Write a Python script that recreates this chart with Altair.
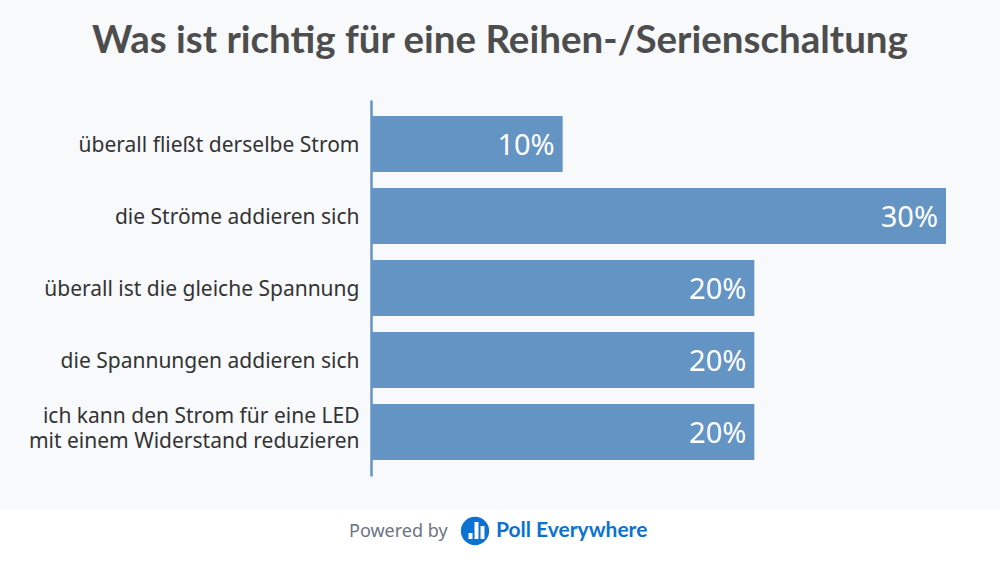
import altair as alt
import pandas as pd

categories = [
    "überall fließt derselbe Strom",
    "die Ströme addieren sich",
    "überall ist die gleiche Spannung",
    "die Spannungen addieren sich",
    "ich kann den Strom für eine LED|mit einem Widerstand reduzieren",
]
values = [10, 30, 20, 20, 20]
labels = ["10%", "30%", "20%", "20%", "20%"]

title_text = "Was ist richtig für eine Reihen-/Serienschaltung"

df = pd.DataFrame({"cat": categories, "val": values, "lab": labels})

FONT = "Noto Sans"
TFONT = "Lato"
BAR = "#6394c4"

y_enc = alt.Y(
    "cat:N",
    sort=categories,
    scale=alt.Scale(paddingInner=0.2222, paddingOuter=0.2222),
    axis=alt.Axis(
        title=None,
        ticks=False,
        domainColor=BAR,
        domainWidth=2.5,
        labelFont=FONT,
        labelFontSize=21,
        labelColor="#333333",
        labelPadding=12,
        labelLineHeight=25,
        labelOffset={"condition": {"test": "indexof(datum.value, '|') >= 0", "value": -15}, "value": 2},
        labelExpr="split(datum.label, '|')",
        labelLimit=400,
    ),
)
x_enc = alt.X("val:Q", scale=alt.Scale(domain=[0, 30], nice=False), axis=None)

base = alt.Chart(df)

bars = base.mark_bar(color=BAR).encode(x=x_enc, y=y_enc)
texts = base.mark_text(
    align="right", dx=-8, dy=2, color="white", font=FONT, fontSize=29, fontWeight="normal"
).encode(x=x_enc, y=alt.Y("cat:N", sort=categories), text="lab:N")

footer_df = pd.DataFrame({"a": [0]})
footer_bg = alt.Chart(footer_df).mark_rect(color="white").encode(
    x=alt.value(-371), x2=alt.value(629), y=alt.value(410), y2=alt.value(470)
)
title = alt.Chart(footer_df).mark_text(
    text=title_text, font=TFONT, fontSize=38.5, fontWeight="bold", color="#4d4d4d",
    align="center", baseline="alphabetic"
).encode(x=alt.value(129), y=alt.value(-47))
powered = alt.Chart(footer_df).mark_text(
    text="Powered by", font=FONT, fontSize=18, color="#6b7484", align="left", baseline="middle"
).encode(x=alt.value(-22), y=alt.value(432))
logo_circle = alt.Chart(footer_df).mark_point(
    filled=True, shape="circle", size=800, color="#0b72d2", opacity=1
).encode(x=alt.value(104), y=alt.value(431))
logo_bars_df = pd.DataFrame({"x": [97.5, 103.5, 109.5], "y1": [433, 422, 426], "y2": [439, 439, 439]})
logo_bars = alt.Chart(logo_bars_df).mark_rect(color="white").encode(
    x=alt.X("x:Q", scale=None), x2=alt.X2("x2:Q"), y=alt.Y("y1:Q", scale=None), y2="y2:Q"
).transform_calculate(x2="datum.x + 4")
poll = alt.Chart(footer_df).mark_text(
    text="Poll Everywhere", font=TFONT, fontSize=21, fontWeight="bold", color="#0b72d2",
    align="left", baseline="middle"
).encode(x=alt.value(125), y=alt.value(431))

chart = alt.layer(footer_bg, bars, texts, title, powered, logo_circle, logo_bars, poll).properties(
    width=575, height=376,
    autosize=alt.AutoSizeParams(type="none"),
    padding={"left": 371, "top": 100, "right": 54, "bottom": 86},
    background="#f8f9fb",
).configure_view(stroke=None)

chart.save("out.html", embed_options={"renderer": "svg", "actions": False})
